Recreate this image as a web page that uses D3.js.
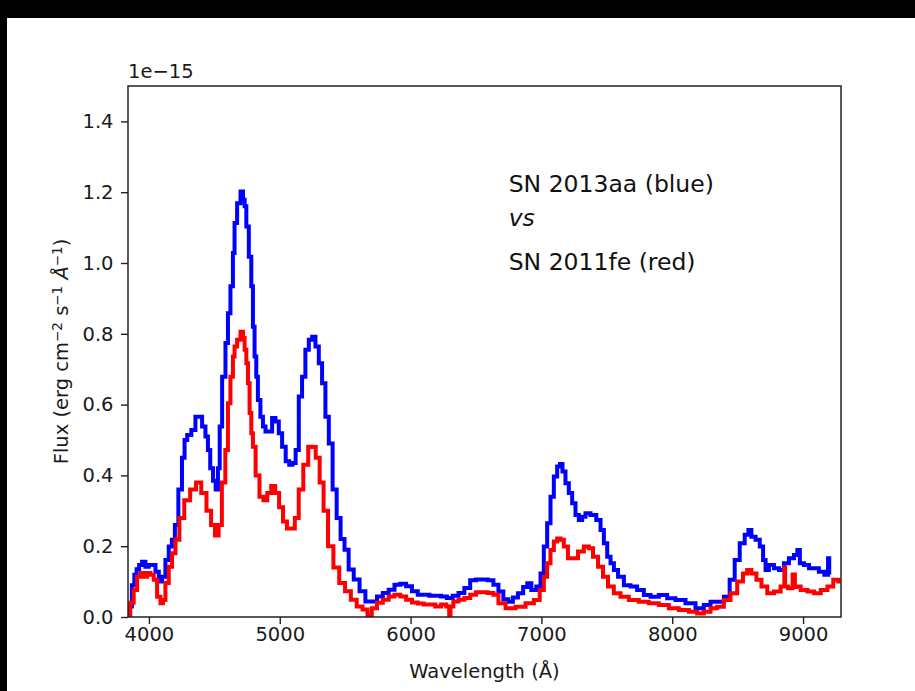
<!DOCTYPE html>
<html>
<head>
<meta charset="utf-8">
<script src="https://cdn.jsdelivr.net/npm/d3@7"></script>
<style>
  body { margin: 0; background: #fff; }
  svg { display: block; font-family: "DejaVu Sans", sans-serif; }
</style>
</head>
<body>
<svg id="chart" width="915" height="691"></svg>
<script>
// Spectra, flux in units of 1e-15 erg cm^-2 s^-1 A^-1

// SN 2013aa (blue)
const blueWave = [3845, 3859, 3880, 3897, 3915, 3935, 3960, 3986, 4011, 4037, 4063, 4088, 4113, 4139, 4164, 4187,
  4210, 4240, 4265, 4280, 4305, 4343, 4368, 4394, 4419, 4445, 4457, 4480, 4500, 4520, 4535, 4547, 4572, 4598,
  4610, 4636, 4648, 4661, 4687, 4713, 4725, 4738, 4751, 4776, 4789, 4801, 4814, 4827, 4839, 4865, 4878, 4904,
  4929, 4954, 4980, 5005, 5031, 5060, 5085, 5110, 5133, 5158, 5183, 5209, 5235, 5260, 5286, 5311, 5336, 5362,
  5388, 5420, 5450, 5480, 5510, 5543, 5588, 5632, 5677, 5721, 5766, 5810, 5855, 5899, 5944, 5988, 6033, 6077,
  6122, 6166, 6211, 6255, 6300, 6344, 6389, 6433, 6478, 6522, 6567, 6611, 6655, 6688, 6730, 6764, 6800, 6841,
  6880, 6904, 6942, 6980, 7006, 7031, 7057, 7082, 7108, 7133, 7151, 7171, 7197, 7222, 7248, 7273, 7299, 7324,
  7350, 7400, 7439, 7465, 7490, 7516, 7541, 7567, 7605, 7656, 7706, 7757, 7809, 7859, 7936, 7987, 8063, 8140,
  8216, 8267, 8318, 8369, 8420, 8458, 8497, 8535, 8573, 8592, 8618, 8656, 8682, 8707, 8720, 8758, 8797, 8835,
  8873, 8911, 8950, 8963, 8988, 9026, 9064, 9102, 9140, 9185, 9197, 9203];
const blueFlux = [0.0, 0.03, 0.09, 0.119, 0.135, 0.147, 0.156, 0.142, 0.147, 0.147, 0.128, 0.10, 0.114, 0.161, 0.199, 0.218,
  0.26, 0.36, 0.45, 0.50, 0.514, 0.528, 0.566, 0.566, 0.538, 0.51, 0.472, 0.42, 0.385, 0.36, 0.42, 0.538, 0.679, 0.774,
  0.858, 0.934, 1.028, 1.113, 1.169, 1.202, 1.179, 1.16, 1.103, 1.018, 0.934, 0.82, 0.736, 0.679, 0.613, 0.566, 0.538, 0.524,
  0.524, 0.562, 0.552, 0.519, 0.481, 0.44, 0.43, 0.435, 0.472, 0.623, 0.679, 0.755, 0.783, 0.792, 0.764, 0.717, 0.66, 0.566,
  0.49, 0.36, 0.28, 0.22, 0.19, 0.134, 0.106, 0.073, 0.044, 0.044, 0.058, 0.068, 0.077, 0.091, 0.094, 0.087, 0.073, 0.063,
  0.063, 0.06, 0.06, 0.058, 0.054, 0.06, 0.068, 0.082, 0.104, 0.106, 0.106, 0.104, 0.091, 0.072, 0.05, 0.043, 0.055, 0.067,
  0.085, 0.095, 0.076, 0.086, 0.123, 0.199, 0.265, 0.34, 0.397, 0.425, 0.432, 0.411, 0.378, 0.35, 0.321, 0.288, 0.274, 0.283,
  0.293, 0.288, 0.274, 0.246, 0.208, 0.17, 0.152, 0.133, 0.114, 0.09, 0.086, 0.076, 0.062, 0.057, 0.062, 0.053, 0.048, 0.039,
  0.025, 0.034, 0.043, 0.043, 0.057, 0.105, 0.161, 0.208, 0.232, 0.246, 0.227, 0.218, 0.199, 0.161, 0.133, 0.147, 0.138, 0.133,
  0.152, 0.166, 0.175, 0.189, 0.152, 0.147, 0.138, 0.138, 0.128, 0.119, 0.166, 0.12];

// SN 2011fe (red)
const redWave = [3845, 3870, 3897, 3922, 3948, 3973, 3998, 4024, 4050, 4075, 4101, 4113, 4139, 4164, 4190, 4216,
  4250, 4290, 4340, 4380, 4420, 4460, 4490, 4520, 4545, 4570, 4598, 4610, 4636, 4648, 4661, 4687, 4713, 4725,
  4738, 4751, 4763, 4776, 4789, 4801, 4830, 4860, 4890, 4920, 4950, 4980, 5010, 5040, 5070, 5100, 5130, 5160,
  5200, 5235, 5260, 5290, 5320, 5350, 5388, 5432, 5477, 5521, 5566, 5610, 5655, 5686, 5721, 5766, 5810, 5855,
  5899, 5944, 5988, 6033, 6077, 6122, 6166, 6211, 6255, 6290, 6300, 6310, 6344, 6389, 6433, 6478, 6522, 6567,
  6611, 6655, 6688, 6764, 6841, 6917, 6968, 7006, 7031, 7057, 7082, 7108, 7133, 7159, 7184, 7222, 7261, 7299,
  7350, 7375, 7414, 7452, 7490, 7528, 7579, 7630, 7706, 7783, 7859, 7936, 8012, 8089, 8165, 8216, 8267, 8318,
  8369, 8420, 8471, 8522, 8560, 8586, 8624, 8663, 8701, 8752, 8803, 8854, 8860, 8866, 8905, 8935, 8940, 8956,
  9008, 9059, 9110, 9161, 9212, 9250, 9288];
const redFlux = [0.0, 0.04, 0.076, 0.114, 0.124, 0.114, 0.124, 0.119, 0.105, 0.057, 0.039, 0.048, 0.096, 0.142, 0.18, 0.218,
  0.28, 0.33, 0.36, 0.38, 0.35, 0.30, 0.26, 0.23, 0.26, 0.38, 0.472, 0.604, 0.679, 0.736, 0.764, 0.783, 0.806, 0.788,
  0.755, 0.717, 0.66, 0.576, 0.519, 0.481, 0.40, 0.34, 0.33, 0.35, 0.37, 0.35, 0.31, 0.27, 0.25, 0.25, 0.28, 0.36,
  0.43, 0.481, 0.48, 0.45, 0.38, 0.30, 0.20, 0.14, 0.096, 0.073, 0.049, 0.03, 0.021, 0.004, 0.025, 0.04, 0.049, 0.058,
  0.063, 0.058, 0.049, 0.041, 0.038, 0.035, 0.035, 0.03, 0.035, 0.03, 0.0, 0.03, 0.044, 0.049, 0.054, 0.063, 0.07, 0.07,
  0.068, 0.063, 0.039, 0.025, 0.029, 0.039, 0.048, 0.076, 0.114, 0.152, 0.189, 0.213, 0.222, 0.218, 0.199, 0.166, 0.166, 0.185,
  0.199, 0.194, 0.17, 0.142, 0.114, 0.086, 0.067, 0.057, 0.048, 0.043, 0.039, 0.034, 0.025, 0.02, 0.015, 0.01, 0.015, 0.025,
  0.029, 0.048, 0.067, 0.10, 0.123, 0.133, 0.123, 0.105, 0.086, 0.067, 0.072, 0.086, 0.14, 0.086, 0.081, 0.12, 0.085, 0.086,
  0.076, 0.072, 0.067, 0.076, 0.086, 0.105, 0.10];

// Axis ticks
const xTicks = [4000, 5000, 6000, 7000, 8000, 9000];
const yTicks = [0.0, 0.2, 0.4, 0.6, 0.8, 1.0, 1.2, 1.4];

// Annotation lines (wavelength, flux) in data units
const noteLines = ["SN 2013aa (blue)", "vs", "SN 2011fe (red)"];
const noteY = [1.2, 1.104, 0.98];
const noteX = 6750;

// Figure layout
let margin = {top: 86, right: 74, bottom: 74, left: 128},
    width = 915 - margin.left - margin.right,
    height = 691 - margin.top - margin.bottom;

const svg = d3.select("#chart");

// black border strips from the screenshot
svg.append("rect").attr("x", 0).attr("y", 0).attr("width", 915).attr("height", 18).attr("fill", "#000");
svg.append("rect").attr("x", 0).attr("y", 0).attr("width", 7).attr("height", 691).attr("fill", "#000");

const g = svg.append("g").attr("transform", "translate(" + margin.left + "," + margin.top + ")");

let x = d3.scaleLinear().domain([3840, 9290]).range([0, width]);
let y = d3.scaleLinear().domain([0, 1.5]).range([height, 0]);

g.append("clipPath").attr("id", "plotClip")
  .append("rect").attr("width", width).attr("height", height);

// spectra drawn as steps
let line = d3.line()
  .x(d => x(d[0]))
  .y(d => y(d[1]))
  .curve(d3.curveStep);

const series = [
  {wave: blueWave, flux: blueFlux, color: "#0000ff"},
  {wave: redWave, flux: redFlux, color: "#ff0000"}
];

series.forEach(function(s) {
  g.append("path")
    .datum(s.wave.map((w, i) => [w, s.flux[i]]))
    .attr("clip-path", "url(#plotClip)")
    .attr("fill", "none")
    .attr("stroke", s.color)
    .attr("stroke-width", 4)
    .attr("stroke-linejoin", "miter")
    .attr("d", line);
});

// axes
const fontSize = 19.5;

let xAxis = g.append("g")
  .attr("transform", "translate(0," + height + ")")
  .call(d3.axisBottom(x).tickValues(xTicks).tickSize(7).tickPadding(3.5).tickFormat(d3.format("d")));
xAxis.select(".domain").remove();

let yAxis = g.append("g")
  .call(d3.axisLeft(y).tickValues(yTicks).tickSize(7).tickPadding(7.5).tickFormat(d3.format(".1f")));
yAxis.select(".domain").remove();

[xAxis, yAxis].forEach(function(a) {
  a.selectAll("line").attr("stroke", "#222").attr("stroke-width", 1.4);
  a.selectAll("text").attr("fill", "#1a1a1a").style("font-size", fontSize + "px")
    .style("font-family", "'DejaVu Sans', sans-serif");
});

// frame
g.append("rect")
  .attr("width", width).attr("height", height)
  .attr("fill", "none").attr("stroke", "#222").attr("stroke-width", 1.5);

// offset text above the y axis
g.append("text")
  .attr("x", 0).attr("y", -8)
  .attr("fill", "#1a1a1a")
  .style("font-size", fontSize + "px")
  .text("1e\u221215");

// x label
g.append("text")
  .attr("x", width / 2).attr("y", height + 61)
  .attr("text-anchor", "middle")
  .attr("fill", "#1a1a1a")
  .style("font-size", fontSize + "px")
  .text("Wavelength (\u00c5)");

// y label with superscripts
let yLabel = svg.append("text")
  .attr("transform", "translate(68," + (margin.top + height / 2) + ") rotate(-90)")
  .attr("text-anchor", "middle")
  .attr("fill", "#1a1a1a")
  .style("font-size", fontSize + "px");

const sup = function(txt) {
  yLabel.append("tspan").attr("baseline-shift", "40%").style("font-size", "13.5px").text(txt);
};
yLabel.append("tspan").text("Flux (erg cm");
sup("\u22122");
yLabel.append("tspan").text(" s");
sup("\u22121");
yLabel.append("tspan").text(" ");
yLabel.append("tspan").style("font-style", "italic").text("\u00c5");
sup("\u22121");
yLabel.append("tspan").text(")");

// annotation
g.selectAll(".note")
  .data(noteLines)
  .enter()
  .append("text")
  .attr("class", "note")
  .attr("x", x(noteX))
  .attr("y", (d, i) => y(noteY[i]))
  .attr("fill", "#111")
  .style("font-size", "23.5px")
  .style("font-style", (d, i) => i === 1 ? "italic" : "normal")
  .text(d => d);
</script>
</body>
</html>
